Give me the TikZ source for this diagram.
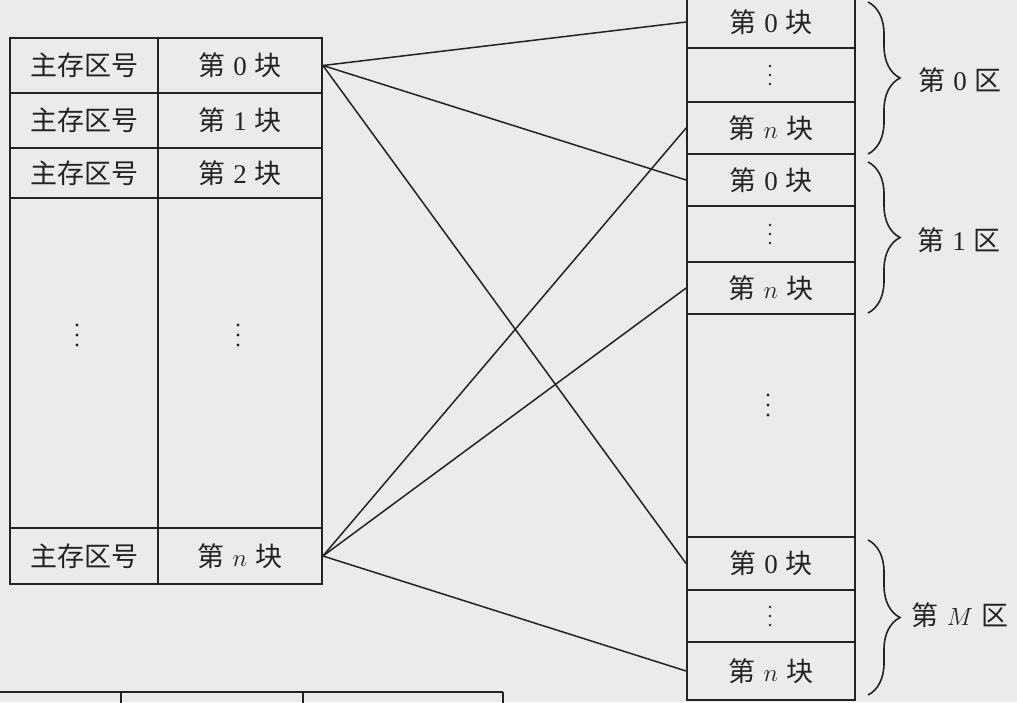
\documentclass[tikz,border=0pt]{standalone}
\usepackage{fontspec}
\setmainfont{Liberation Serif}
\newfontfamily\cjk{Noto Sans CJK SC}
\usetikzlibrary{decorations.pathreplacing}
\definecolor{bg}{RGB}{235,235,237}
\definecolor{ink}{RGB}{35,35,35}
\newcommand\kuai[1]{{\cjk 第}\hspace{0.3em}#1\hspace{0.3em}{\cjk 块}}
\newcommand\qu[1]{{\cjk 第}\hspace{0.3em}#1\hspace{0.3em}{\cjk 区}}
\begin{document}
\begin{tikzpicture}[x=1pt,y=-1pt,
  cell/.style={draw=ink, line width=1.8pt, inner sep=0pt, text=ink,
    font=\fontsize{27}{30}\selectfont},
  lcA/.style={cell, minimum width=148pt},
  lcB/.style={cell, minimum width=164pt},
  rc/.style={cell, minimum width=168pt},
  dotc/.style={circle, fill=ink, inner sep=0pt, minimum size=3.2pt},
  conn/.style={draw=ink, line width=1.5pt},
  brc/.style={draw=ink, line width=1.6pt, decorate, decoration={brace, amplitude=32pt}},
  lbl/.style={inner sep=0pt, text=ink, font=\fontsize{27}{30}\selectfont}]
\fill[bg] (0,0) rectangle (1017,702);
\useasboundingbox (0,0) rectangle (1017,702);
% left table
\node[lcA, minimum height=55pt] (L0a) at (84,65.5) {\cjk 主存区号};
\node[lcB, minimum height=55pt] (L0b) at (240,65.5) {\kuai{0}};
\node[lcA, minimum height=55pt] (L1a) at (84,120.5) {\cjk 主存区号};
\node[lcB, minimum height=55pt] (L1b) at (240,120.5) {\kuai{1}};
\node[lcA, minimum height=50pt] (L2a) at (84,173) {\cjk 主存区号};
\node[lcB, minimum height=50pt] (L2b) at (240,173) {\kuai{2}};
\node[lcA, minimum height=330pt] (L3a) at (84,363) {};
\node[lcB, minimum height=330pt] (L3b) at (240,363) {};
\node[lcA, minimum height=56pt] (L4a) at (84,556) {\cjk 主存区号};
\node[lcB, minimum height=56pt] (L4b) at (240,556) {\kuai{$n$}};
\foreach \dy [count=\i] in {-10,0,10}{
  \node[dotc] (Lda\i) at (77,335+\dy) {};
  \node[dotc] (Ldb\i) at (238,335+\dy) {};
  \node[dotc] (RBd\i) at (768,405+\dy) {};
}
% right column
\node[rc, minimum height=52pt] (R0c) at (771,22) {\kuai{0}};
\node[rc, minimum height=54pt] (R0d) at (771,75) {};
\node[rc, minimum height=52pt] (R0n) at (771,128) {\kuai{$n$}};
\node[rc, minimum height=52pt] (R1c) at (771,180) {\kuai{0}};
\node[rc, minimum height=56pt] (R1d) at (771,234) {};
\node[rc, minimum height=52pt] (R1n) at (771,288) {\kuai{$n$}};
\node[rc, minimum height=223pt] (RB) at (771,425.5) {};
\node[rc, minimum height=53pt] (RMc) at (771,563.5) {\kuai{0}};
\node[rc, minimum height=52pt] (RMd) at (771,616) {};
\node[rc, minimum height=58pt] (RMn) at (771,671) {\kuai{$n$}};
\foreach \dy [count=\i] in {-9,0,9}{
  \node[dotc, minimum size=2.6pt] (R0dd\i) at (770,75+\dy) {};
  \node[dotc, minimum size=2.6pt] (R1dd\i) at (770,234+\dy) {};
  \node[dotc, minimum size=2.6pt] (RMdd\i) at (770,616+\dy) {};
}
% braces
\coordinate (b0t) at (868,2);   \coordinate (b0b) at (868,154);
\coordinate (b1t) at (868,162); \coordinate (b1b) at (868,313);
\coordinate (b2t) at (868,540); \coordinate (b2b) at (868,695);
\draw[brc] (b0t) -- (b0b);
\draw[brc] (b1t) -- (b1b);
\draw[brc] (b2t) -- (b2b);
\node[lbl] (Q0) at (960,80) {\qu{0}};
\node[lbl] (Q1) at (959,240) {\qu{1}};
\node[lbl] (QM) at (960,615) {\qu{$M$}};
% connectors
\draw[conn] (L0b.east) -- (R0c.west);
\draw[conn] (L0b.east) -- (R1c.west);
\draw[conn] (L0b.east) -- (RMc.west);
\draw[conn] (L4b.east) -- (R0n.west);
\draw[conn] (L4b.east) -- (R1n.west);
\draw[conn] (L4b.east) -- (RMn.west);
% fragment of another table at the bottom edge
\draw[ink, line width=1.8pt] (0,692) -- (503,692);
\draw[ink, line width=1.8pt] (121,692) -- (121,705);
\draw[ink, line width=1.8pt] (303,692) -- (303,705);
\draw[ink, line width=1.8pt] (503,692) -- (503,705);
\end{tikzpicture}
\end{document}
